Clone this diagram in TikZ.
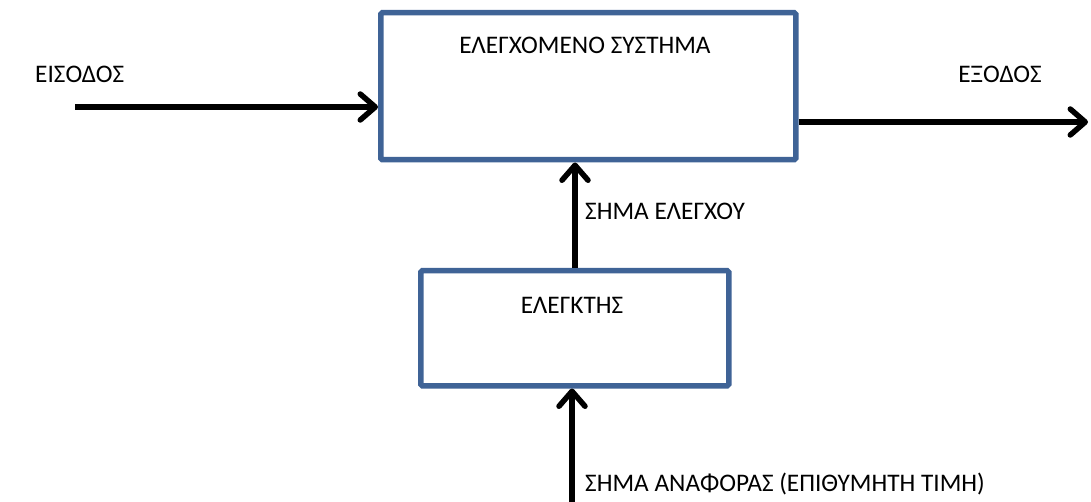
\documentclass[tikz,border=0pt]{standalone}
\usepackage{fontspec}
\setmainfont{Carlito}
\usetikzlibrary{arrows.meta}
\definecolor{boxblue}{HTML}{3F6396}
\tikzset{
  blockbox/.style={draw=boxblue, line width=5.5pt, fill=white, rounded corners=1.5pt},
  sig/.style={line width=5.5pt, -{Straight Barb[length=15pt,width=26pt,line width=5.5pt,round]}},
  lbl/.style={font=\fontsize{25.3}{28}\selectfont, inner sep=0pt}
}
\begin{document}
\begin{tikzpicture}[x=1pt,y=-1pt]
\useasboundingbox (0,0) rectangle (1091,502);
\node[blockbox, minimum width=415pt, minimum height=147pt, anchor=north west] (sys) at (378,10) {};
\node[blockbox, minimum width=308pt, minimum height=115pt, anchor=north west] (ctl) at (418,268) {};
\node[lbl] (tsys) at (585,45) {ΕΛΕΓΧΟΜΕΝΟ ΣΥΣΤΗΜΑ};
\node[lbl] (tctl) at (572,305) {ΕΛΕΓΚΤΗΣ};
\node[lbl, anchor=west] (tin) at (35,74) {ΕΙΣΟΔΟΣ};
\node[lbl] (tout) at (1000,74) {ΕΞΟΔΟΣ};
\node[lbl, anchor=west] (tcs) at (585,211) {ΣΗΜΑ ΕΛΕΓΧΟΥ};
\node[lbl, anchor=west] (tref) at (585,484) {ΣΗΜΑ ΑΝΑΦΟΡΑΣ (ΕΠΙΘΥΜΗΤΗ ΤΙΜΗ)};
\coordinate (in) at (75,107);
\coordinate (out) at (1088,122);
\coordinate (ref) at (572,502);
\draw[sig] (in) -- (sys.west |- in);
\draw[sig] (sys.east |- out) -- (out);
\draw[sig] (ctl.north -| 575,0) -- (sys.south -| 575,0);
\draw[sig] (ref) -- (ctl.south -| ref);
\end{tikzpicture}
\end{document}
